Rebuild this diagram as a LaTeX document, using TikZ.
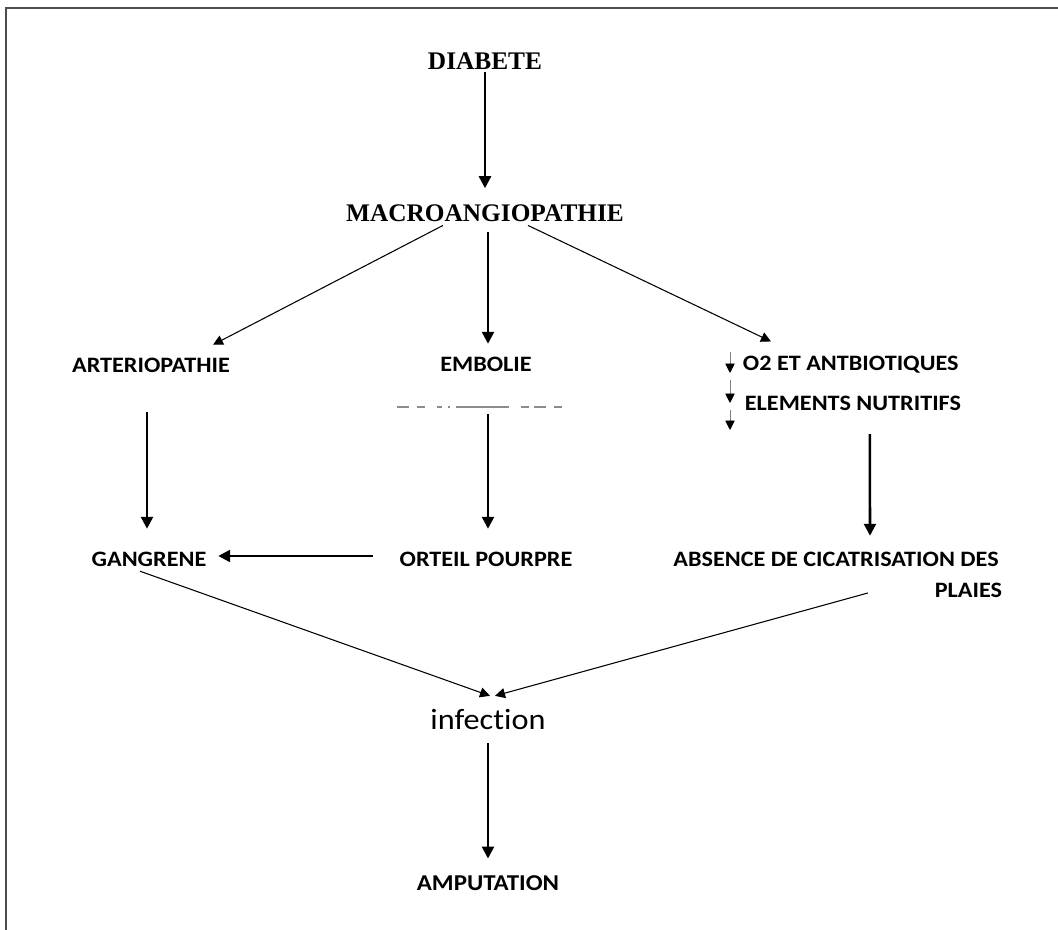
\documentclass[tikz,border=0pt]{standalone}
\usepackage{fontspec}
\setmainfont{Liberation Serif}
\newfontfamily\labelfont[FakeStretch=1.1,RawFeature={-liga;-clig}]{Carlito}
\usetikzlibrary{arrows.meta,calc}

\begin{document}
\begin{tikzpicture}[x=0.75pt,y=0.75pt,
  title/.style={font=\fontsize{19}{22}\selectfont\bfseries, inner sep=2pt},
  label/.style={font=\labelfont\fontsize{16.5}{20}\selectfont\bfseries, inner sep=2pt},
  arr/.style={line width=1.9pt,-{Triangle[width=9pt,length=9pt]}},
  thinarr/.style={line width=0.8pt,-{Triangle[width=7.5pt,length=7.5pt]}},
  tinyarr/.style={line width=0.5pt,black!50,-{Triangle[width=7pt,length=7pt,black]}}]

  \useasboundingbox (0,0) rectangle (1058,930);

  % Frame: top and left sides only
  \draw[line width=2pt,black!70] (6,0) -- (6,922) -- (1058,922);

  % Titles
  \node[title] (diabete) at (485,869) {DIABETE};
  \node[title] (macro)   at (485,717) {MACROANGIOPATHIE};

  % First row
  \node[label] (arterio) at (151,565) {ARTERIOPATHIE};
  \node[label] (embolie) at (486,566) {EMBOLIE};
  \node[label,anchor=west] (o2)       at (740,565) {O2 ET ANTBIOTIQUES};
  \node[label,anchor=west] (elements) at (742,527) {ELEMENTS NUTRITIFS};

  % Second row
  \node[label] (gangrene) at (149,371) {GANGRENE};
  \node[label] (orteil)   at (486,371) {ORTEIL POURPRE};
  \node[label] (absence)  at (836,371) {ABSENCE DE CICATRISATION DES};
  \node[label,anchor=east] (plaies) at (1005,340) {PLAIES};

  % Bottom
  \node[font=\labelfont\fontsize{22}{26}\selectfont, inner sep=2pt] (infection) at (488,210) {infection};
  \node[label,font=\labelfont\fontsize{17}{20}\selectfont\bfseries] (amputation) at (488,47) {AMPUTATION};

  % Arrows from the top
  \draw[arr,shorten >=10pt] (diabete) -- (macro);
  \draw[thinarr] ($(macro.south)+(-42,-1)$) -- ($(arterio.north)+(62,10)$);
  \draw[arr] ($(macro.south)+(3,-8)$) -- ($(embolie.north)+(2,10)$);
  \draw[thinarr] ($(macro.south)+(43,-1)$) -- ($(o2.north west)+(31,12)$);

  % Small bullet arrows
  \foreach \a/\b in {13/-8, -15/-38, -45/-65}
    \draw[tinyarr] ($(o2.west)+(-10,\a)$) -- ($(o2.west)+(-10,\b)$);

  % Broken line under EMBOLIE
  \draw[black!45,line width=1.2pt,dash pattern=on 9pt off 6pt on 6pt off 9pt on 4pt off 4pt on 2pt off 4pt on 40pt off 9pt on 6pt off 4pt]
    ($(embolie.south)+(-89,-33)$) -- ($(embolie.south)+(84,-33)$);

  % Vertical arrows to the second row
  \draw[arr] ($(arterio.south)+(-4,-37)$) -- ($(gangrene.north)+(-2,20)$);
  \draw[arr] ($(embolie.south)+(2,-40)$) -- ($(orteil.north)+(2,20)$);
  \draw[arr] ($(elements.south)+(17,-21)$) -- ($(absence.north)+(34,13)$);
  \draw[arr] ($(orteil.west)+(-24,3)$) -- ($(gangrene.east)+(9,3)$);

  % To infection and amputation
  \draw[thinarr] ($(gangrene.south)+(-9,-2)$) -- ($(infection.north)+(2,11)$);
  \draw[thinarr] ($(plaies.west)+(-64,-3)$) -- ($(infection.north)+(7,11)$);
  \draw[arr] ($(infection.south)+(0,-10)$) -- ($(amputation.north)+(0,14)$);

\end{tikzpicture}
\end{document}
